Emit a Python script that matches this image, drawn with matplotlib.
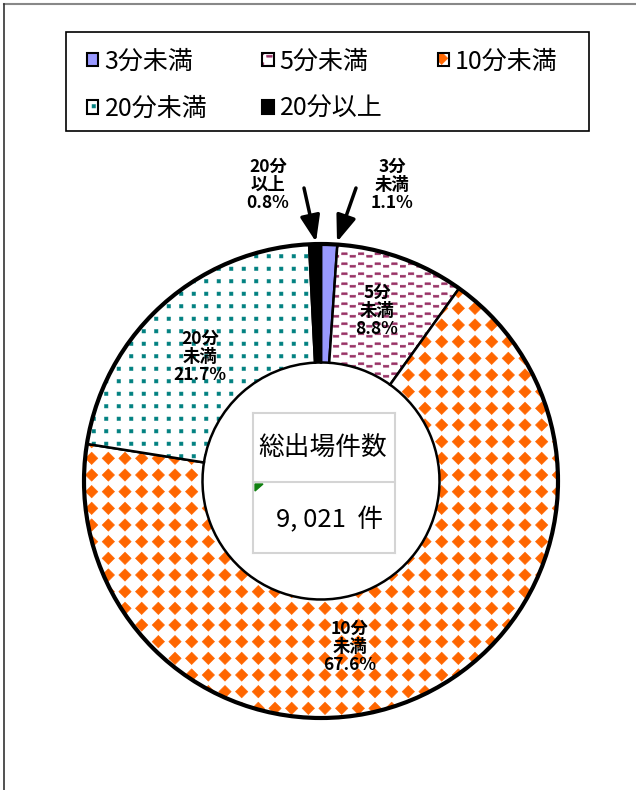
import matplotlib
matplotlib.use("Agg")
import matplotlib.pyplot as plt
import matplotlib.hatch as mhatch
from matplotlib.colors import to_rgba
from matplotlib.lines import Line2D
from matplotlib.patches import Polygon, Rectangle
from matplotlib.path import Path

plt.rcParams["font.family"] = ["Noto Sans CJK JP", "DejaVu Sans"]
plt.rcParams["hatch.linewidth"] = 0.4

# data
CATEGORIES = ["3分未満", "5分未満", "10分未満", "20分未満", "20分以上"]
SHARES = [1.1, 8.8, 67.6, 21.7, 0.8]
SLICE_LABELS = ["3分\n未満\n1.1%", "5分\n未満\n8.8%", "10分\n未満\n67.6%",
                "20分\n未満\n21.7%", "20分\n以上\n0.8%"]
TOTAL_TITLE = "総出場件数"
TOTAL_TEXT = "9, 021  件"

# styles
FACE = ["#9999FF", "white", "white", "white", "black"]
HATCH_COLOR = ["black", "#993366", "#FF6600", "#008080", "black"]
HATCHES = [None, "*", "O", "o", None]


# Excel-like fill textures as filled hatch shapes (one hatch tile = 1x1)
class TileShapes(mhatch.HatchPatternBase):
    char = None

    def __init__(self, hatch, density):
        self.polys = self.polygons() if hatch.count(self.char) else []
        self.num_vertices = sum(len(p) + 1 for p in self.polys)

    def set_vertices_and_codes(self, vertices, codes):
        i = 0
        for p in self.polys:
            n = len(p)
            vertices[i:i + n] = p
            vertices[i + n] = p[0]
            codes[i] = Path.MOVETO
            codes[i + 1:i + n] = Path.LINETO
            codes[i + n] = Path.CLOSEPOLY
            i += n + 1


class Diamonds(TileShapes):
    char = "O"

    def polygons(self):
        n, s = 6, 0.062
        out = []
        for i in range(n):
            for j in range(n):
                cx, cy = (i + 0.5) / n, (j + 0.5) / n
                out.append([(cx, cy + s), (cx + s, cy), (cx, cy - s), (cx - s, cy)])
        return out


class Dots(TileShapes):
    char = "o"

    def polygons(self):
        n, s = 8, 0.017
        out = []
        for i in range(n):
            for j in range(n):
                cx, cy = (i + 0.5) / n, (j + 0.5) / n
                out.append([(cx - s, cy - s), (cx + s, cy - s),
                            (cx + s, cy + s), (cx - s, cy + s)])
        return out


class Waves(TileShapes):
    char = "*"

    def polygons(self):
        rows, m, w, h, d = 10, 12, 0.055, 0.01, 0.012
        out = []
        for j in range(rows):
            y = (j + 0.5) / rows
            for k in range(m):
                x0 = k / m
                yy = y + (d if k % 2 else -d)
                out.append([(x0, yy - h), (x0 + w, yy - h),
                            (x0 + w, yy + h), (x0, yy + h)])
        return out


mhatch._hatch_types = [t for t in mhatch._hatch_types
                       if t not in (mhatch.LargeCircles, mhatch.SmallCircles, mhatch.Stars)]
mhatch._hatch_types += [Diamonds, Dots, Waves]

W, H = 636, 790
CX, CY, R = 321, 481, 237


def fx(x):
    return x / W


def fy(y):
    return 1 - y / H


fig = plt.figure(figsize=(W / 100, H / 100), dpi=100)

lim = 1.02
ax = fig.add_axes([(CX - R * lim) / W, 1 - (CY + R * lim) / H,
                   2 * R * lim / W, 2 * R * lim / H])

wedges, _ = ax.pie(SHARES, startangle=90, counterclock=False,
                   wedgeprops=dict(width=0.5, linewidth=1.8, edgecolor="black"))
for w, fc, hc, ht in zip(wedges, FACE, HATCH_COLOR, HATCHES):
    w.set_facecolor(fc)
    if ht:
        w.set_hatch(ht)
        w._hatch_color = to_rgba(hc)
ax.set_xlim(-lim, lim)
ax.set_ylim(-lim, lim)
ax.set_aspect("equal")

# outer rim thicker
ax.add_patch(plt.Circle((0, 0), 1.0, fill=False, lw=3.0, ec="black", zorder=5))


def px(x, y):
    return ((x - CX) / R, (CY - y) / R)


lab_kw = dict(ha="center", va="center", fontsize=12.5, fontweight="bold",
              linespacing=1.0, annotation_clip=False)
# in-ring labels
for i, pos in [(1, (377, 311)), (2, (350, 647)), (3, (200, 357))]:
    ax.annotate(SLICE_LABELS[i], xy=px(*pos), **lab_kw)

# outside labels with arrows
ax.annotate(SLICE_LABELS[4], xy=px(268, 185), **lab_kw)
ax.annotate(SLICE_LABELS[0], xy=px(392, 185), **lab_kw)
arrow = dict(arrowstyle="-|>,head_length=0.8,head_width=0.3", lw=2.5,
             color="black", shrinkA=0, shrinkB=0, mutation_scale=20)
ax.annotate("", xy=px(316, 242), xytext=px(304, 188), arrowprops=arrow,
            annotation_clip=False)
ax.annotate("", xy=px(337, 242), xytext=px(356, 188), arrowprops=arrow,
            annotation_clip=False)

# legend (column-major order so rows read left to right)
order = [0, 3, 1, 4, 2]
leg = fig.legend([wedges[i] for i in order], [CATEGORIES[i] for i in order],
                 loc="upper left", bbox_to_anchor=(fx(87), fy(48.5)),
                 ncol=3, fontsize=18, frameon=False, handlelength=0.45,
                 handleheight=0.45, handletextpad=0.25, labelspacing=0.86,
                 borderpad=0, borderaxespad=0, columnspacing=2.2)
for p in leg.get_patches():
    p.set_linewidth(1.5)
fig.add_artist(Rectangle((fx(66), fy(131)), fx(589) - fx(66), fy(32) - fy(131),
                         transform=fig.transFigure, fill=False, ec="black", lw=1.2))

# center cell box
cell = "#d4d4d4"
for y in (413, 482, 553):
    fig.add_artist(Line2D([fx(253), fx(395)], [fy(y), fy(y)], color=cell, lw=1.5))
for x in (253, 395):
    fig.add_artist(Line2D([fx(x), fx(x)], [fy(413), fy(553)], color=cell, lw=1.5))
fig.add_artist(Polygon([[fx(255), fy(484)], [fx(263), fy(484)], [fx(255), fy(491)]],
                       closed=True, color="#108010", transform=fig.transFigure))
fig.text(fx(323), fy(449), TOTAL_TITLE, ha="center", va="center", fontsize=18.5)
fig.text(fx(330), fy(520), TOTAL_TEXT, ha="center", va="center", fontsize=18.5)

# page frame
fig.add_artist(Line2D([fx(4), fx(636)], [fy(4), fy(4)], color="#888888", lw=1.5))
fig.add_artist(Line2D([fx(4), fx(4)], [fy(4), fy(790)], color="#333333", lw=1.2))

fig.savefig("out.png", dpi=100)
